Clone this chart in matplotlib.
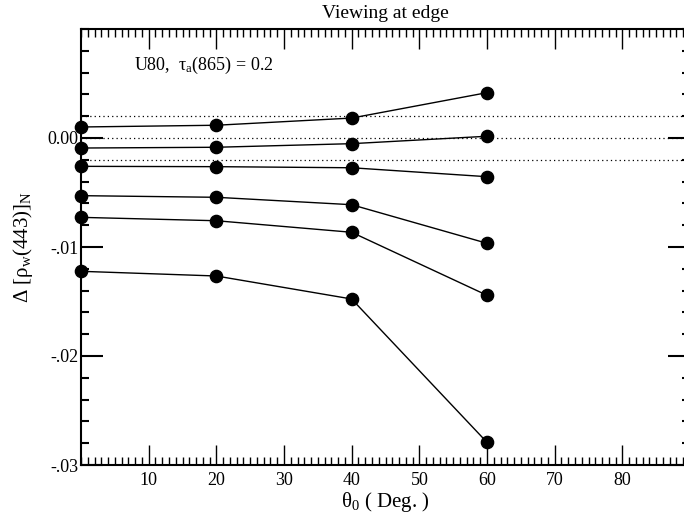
import matplotlib
matplotlib.use('Agg')
import matplotlib.pyplot as plt
from matplotlib.ticker import MultipleLocator, FixedFormatter, FixedLocator

plt.rcParams['font.family'] = ['Liberation Serif', 'DejaVu Serif']
plt.rcParams['mathtext.fontset'] = 'custom'
plt.rcParams['mathtext.rm'] = 'Liberation Serif'
plt.rcParams['mathtext.it'] = 'Liberation Serif:italic'

# solar zenith angles (deg)
theta0 = [0, 20, 40, 60]

# normalized water-leaving reflectance error at 443 nm, one curve per case
err_1 = [0.00101, 0.00117, 0.00183, 0.00416]
err_2 = [-0.00092, -0.00085, -0.00052, 0.00016]
err_3 = [-0.00260, -0.00263, -0.00273, -0.00355]
err_4 = [-0.00529, -0.00544, -0.00612, -0.00966]
err_5 = [-0.00728, -0.00759, -0.00865, -0.01443]
err_6 = [-0.01223, -0.01266, -0.01477, -0.02792]
curves = [err_1, err_2, err_3, err_4, err_5, err_6]

# reference levels drawn as dotted lines
ref_levels = [0.002, 0.0, -0.002]

ytick_vals = [0.0, -0.01, -0.02, -0.03]
ytick_labels = ['0.00', '-.01', '-.02', '-.03']
xtick_vals = [10, 20, 30, 40, 50, 60, 70, 80]

fig = plt.figure(figsize=(6.84, 5.2), dpi=100)
ax = fig.add_axes([81 / 684, 1 - 465 / 520, (690 - 81) / 684, (465 - 29) / 520])

for lvl in ref_levels:
    ax.axhline(lvl, color='black', linestyle=(0, (1, 2.5)), linewidth=0.9, zorder=1)

for c in curves:
    ax.plot(theta0, c, color='black', linewidth=1.0, marker='o', markersize=8.8,
            clip_on=False, zorder=3)

ax.set_xlim(0, 90)
ax.set_ylim(-0.03, 0.01)

ax.xaxis.set_major_locator(FixedLocator(xtick_vals))
ax.xaxis.set_minor_locator(MultipleLocator(1))
ax.yaxis.set_major_locator(FixedLocator(ytick_vals))
ax.yaxis.set_major_formatter(FixedFormatter(ytick_labels))
ax.yaxis.set_minor_locator(MultipleLocator(0.002))

ax.tick_params(axis='x', which='major', direction='in', top=True, bottom=True,
               length=14.5, width=1.0, labelsize=13, pad=5)
ax.tick_params(axis='x', which='minor', direction='in', top=True, bottom=True,
               length=6, width=1.0)
ax.tick_params(axis='y', which='major', direction='in', left=True, right=True,
               length=16, width=1.5, labelsize=13, pad=2)
ax.tick_params(axis='y', which='minor', direction='in', left=True, right=True,
               length=6, width=1.5)

for sp in ax.spines.values():
    sp.set_linewidth(1.5)

ax.set_title('Viewing at edge', fontsize=14, pad=8)
ax.set_xlabel('θ$_0$ ( Deg. )', fontsize=15, labelpad=1)
ax.set_ylabel('Δ [ρ$_\\mathrm{w}$(443)]$_\\mathrm{N}$', fontsize=15, labelpad=9)

ax.text(7.8, 0.0067, 'U80,  τ$_\\mathrm{a}$(865) = 0.2', fontsize=13,
        ha='left', va='center')

fig.savefig('out.png', dpi=100)
